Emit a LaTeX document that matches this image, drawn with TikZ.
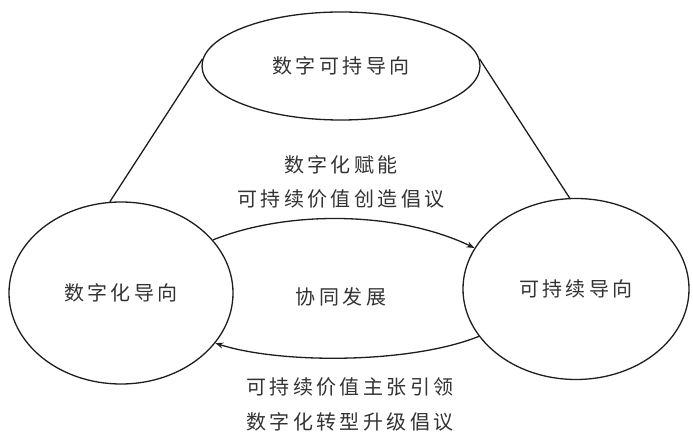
\documentclass[tikz,border=0pt]{standalone}
\usepackage{fontspec}
\usetikzlibrary{shapes.geometric,arrows.meta}
\newfontfamily\cjk[LetterSpace=17]{Noto Sans CJK SC}
\definecolor{ink}{HTML}{1E1E1E}
\definecolor{txt}{HTML}{333333}
\begin{document}
\begin{tikzpicture}[x=1pt,y=-1pt,
  oval/.style={ellipse,draw=ink,line width=1.3pt,inner sep=0pt,font=\cjk\fontsize{20}{24}\selectfont,text=txt},
  lbl/.style={font=\cjk\fontsize{20}{24}\selectfont,text=txt,inner sep=0pt},
  link/.style={draw=ink,line width=1.3pt},
  flow/.style={draw=ink,line width=1.3pt,-{Stealth[length=8pt,width=6pt]}}]
\useasboundingbox[fill=white] (0,0) rectangle (693,435);
\node[oval,minimum width=278pt,minimum height=108pt] (T) at (341,66) {数字可持导向};
\node[oval,minimum width=224pt,minimum height=182pt] (L) at (121,293) {数字化导向};
\node[oval,minimum width=226pt,minimum height=181pt] (R) at (576,289) {可持续导向};
\draw[link] (L.97.6) -- (T.177);
\draw[link] (T.3) -- (R.94);
\draw[flow] (L.30.4) .. controls (290,209) and (400,212) .. (R.158.7);
\draw[flow] (R.206) .. controls (410,364) and (280,364) .. (L.332);
\node[lbl] (t1) at (341,165) {数字化赋能};
\node[lbl] (t2) at (341,199) {可持续价值创造倡议};
\node[lbl] (t3) at (341,297) {协同发展};
\node[lbl] (t4) at (350,387) {可持续价值主张引领};
\node[lbl] (t5) at (350,422) {数字化转型升级倡议};
\end{tikzpicture}
\end{document}
